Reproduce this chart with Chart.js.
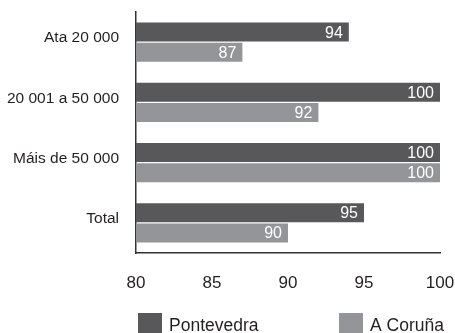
<!DOCTYPE html>
<html>
<head>
<meta charset="utf-8">
<script src="https://cdn.jsdelivr.net/npm/chart.js@4"></script>
<style>
html,body{margin:0;padding:0;background:#fff;overflow:hidden;width:455px;height:333px;}
#wrap{position:absolute;left:0;top:0;width:475px;height:350px;}
</style>
</head>
<body>
<div id="wrap"><canvas id="c" width="475" height="350"></canvas></div>
<script>
const categories = ["Ata 20 000", "20 001 a 50 000", "Máis de 50 000", "Total"];
const seriesNames = ["Pontevedra", "A Coruña"];
const pontevedra = [94, 100, 100, 95];
const aCoruna = [87, 92, 100, 90];
const xTicks = [80, 85, 90, 95, 100];

const FONT = "'Liberation Sans', Arial, sans-serif";
const TEXT = "#231f20";

const valueLabels = {
  id: 'valueLabels',
  afterDatasetsDraw(chart) {
    const ctx = chart.ctx;
    ctx.save();
    ctx.fillStyle = '#ffffff';
    ctx.font = '16px ' + FONT;
    ctx.textAlign = 'right';
    ctx.textBaseline = 'middle';
    chart.data.datasets.forEach((ds, di) => {
      const meta = chart.getDatasetMeta(di);
      meta.data.forEach((el, i) => {
        ctx.fillText(String(ds.data[i]), el.x - 6, el.y + 1);
      });
    });
    ctx.restore();
  }
};

// Legend drawn from the datasets (labels + colours) below the x axis
const legendItemsX = [138, 339];
const bottomLegend = {
  id: 'bottomLegend',
  afterDraw(chart) {
    const ctx = chart.ctx;
    const top = chart.chartArea.bottom + 60;
    ctx.save();
    ctx.font = '17.5px ' + FONT;
    ctx.textAlign = 'left';
    ctx.textBaseline = 'middle';
    chart.data.datasets.forEach((ds, i) => {
      const x = legendItemsX[i];
      ctx.fillStyle = ds.backgroundColor;
      ctx.fillRect(x, top, 24, 24);
      ctx.fillStyle = TEXT;
      ctx.fillText(ds.label, x + 31, top + 13);
    });
    ctx.restore();
  }
};

new Chart(document.getElementById('c'), {
  type: 'bar',
  data: {
    labels: categories,
    datasets: [
      { label: seriesNames[0], data: pontevedra, backgroundColor: '#58585a', barPercentage: 0.95, categoryPercentage: 0.665 },
      { label: seriesNames[1], data: aCoruna, backgroundColor: '#939598', barPercentage: 0.95, categoryPercentage: 0.665 }
    ]
  },
  options: {
    indexAxis: 'y',
    responsive: false,
    animation: false,
    layout: { padding: { top: 12, right: 35, left: 0, bottom: 49 } },
    plugins: {
      legend: { display: false },
      tooltip: { enabled: false }
    },
    scales: {
      x: {
        type: 'linear',
        min: 80,
        max: 100,
        afterBuildTicks(scale) { scale.ticks = xTicks.map(v => ({ value: v })); },
        afterFit(scale) { scale.height = 48; },
        grid: { display: false, drawTicks: true, tickLength: 20 },
        border: { display: true, color: '#333', width: 1.5 },
        ticks: { padding: 0, color: TEXT, font: { family: FONT, size: 17 } }
      },
      y: {
        afterFit(scale) { scale.width = 136; },
        grid: { display: false, drawTicks: true, tickLength: 17 },
        border: { display: true, color: '#333', width: 1.5 },
        ticks: { padding: 0, labelOffset: -4, color: TEXT, font: { family: FONT, size: 15.5 } }
      }
    }
  },
  plugins: [valueLabels, bottomLegend]
});
</script>
</body>
</html>
